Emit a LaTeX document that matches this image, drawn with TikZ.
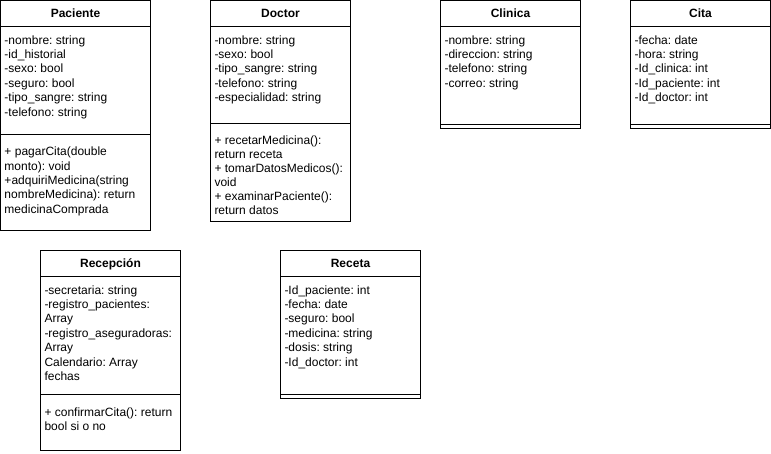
\documentclass[tikz,border=0pt]{standalone}
\usepackage{fontspec}
\setmainfont{Liberation Sans}
\frenchspacing
\begin{document}
\begin{tikzpicture}[x=1pt,y=-1pt,
  secbox/.style={draw=black, line width=1pt, anchor=north west, inner sep=0pt, outer sep=0pt, minimum width=#1},
  hdr/.style={secbox=#1, minimum height=26pt, font=\fontsize{12}{14.4}\selectfont\bfseries, text height=8pt, text depth=0pt},
  txt/.style={anchor=north west, inner sep=0pt, outer sep=0pt, align=left, font=\fontsize{12}{14.4}\selectfont\frenchspacing}
]
\useasboundingbox (0,0) rectangle (771,454);

% ---------- Paciente ----------
\node[hdr=150pt] (pacH) at (0.5,0.5) {Paciente};
\node[secbox=150pt, minimum height=108pt] (pacA) at (0.5,26.5) {};
\node[secbox=150pt, minimum height=96pt] (pacM) at (0.5,134.5) {};
\node[txt] (pacAt) at (4.5,34.1) {\strut-nombre: string\\-id\_historial\\-sexo: bool\\-seguro: bool\\-tipo\_sangre: string\\-telefono: string};
\node[txt] (pacMt) at (4.5,145.7) {\strut+ pagarCita(double\\monto): void\\+adquiriMedicina(string\\nombreMedicina): return\\medicinaComprada};

% ---------- Doctor ----------
\node[hdr=140pt] (docH) at (210.5,0.5) {Doctor};
\node[secbox=140pt, minimum height=97pt] (docA) at (210.5,26.5) {};
\node[secbox=140pt, minimum height=98pt] (docM) at (210.5,123.5) {};
\node[txt] (docAt) at (214.5,34.1) {\strut-nombre: string\\-sexo: bool\\-tipo\_sangre: string\\-telefono: string\\-especialidad: string};
\node[txt, font=\fontsize{12}{14}\selectfont\frenchspacing] (docMt) at (214.5,135.2) {\strut+ recetarMedicina():\\return receta\\+ tomarDatosMedicos():\\void\\+ examinarPaciente():\\return datos};

% ---------- Clinica ----------
\node[hdr=140pt] (cliH) at (440.5,0.5) {Clinica};
\node[secbox=140pt, minimum height=98pt] (cliA) at (440.5,26.5) {};
\node[secbox=140pt, minimum height=4pt] (cliM) at (440.5,124.5) {};
\node[txt] (cliAt) at (444.5,34.1) {\strut-nombre: string\\-direccion: string\\-telefono: string\\-correo: string};

% ---------- Cita ----------
\node[hdr=140pt] (citH) at (630.5,0.5) {Cita};
\node[secbox=140pt, minimum height=98pt] (citA) at (630.5,26.5) {};
\node[secbox=140pt, minimum height=4pt] (citM) at (630.5,124.5) {};
\node[txt] (citAt) at (634.5,34.1) {\strut-fecha: date\\-hora: string\\-Id\_clinica: int\\-Id\_paciente: int\\-Id\_doctor: int};

% ---------- Recepcion ----------
\node[hdr=140pt] (recH) at (40.5,250.5) {Recepción};
\node[secbox=140pt, minimum height=118pt] (recA) at (40.5,276.5) {};
\node[secbox=140pt, minimum height=56pt] (recM) at (40.5,394.5) {};
\node[txt] (recAt) at (44.5,284.1) {\strut-secretaria: string\\-registro\_pacientes:\\Array\\-registro\_aseguradoras:\\Array\\Calendario: Array\\fechas};
\node[txt] (recMt) at (44.5,406.2) {\strut+ confirmarCita(): return\\bool si o no};

% ---------- Receta ----------
\node[hdr=140pt] (retH) at (280.5,250.5) {Receta};
\node[secbox=140pt, minimum height=118pt] (retA) at (280.5,276.5) {};
\node[secbox=140pt, minimum height=4pt] (retM) at (280.5,394.5) {};
\node[txt] (retAt) at (284.5,284.1) {\strut-Id\_paciente: int\\-fecha: date\\-seguro: bool\\-medicina: string\\-dosis: string\\-Id\_doctor: int};
\end{tikzpicture}
\end{document}
